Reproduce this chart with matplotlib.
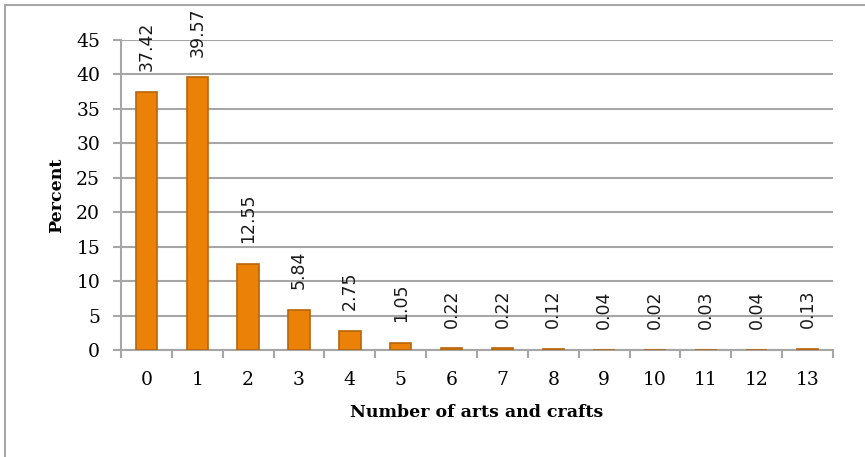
import matplotlib
matplotlib.use("Agg")
import matplotlib.pyplot as plt
import numpy as np
from matplotlib.patches import Rectangle

# values
categories = ["0", "1", "2", "3", "4", "5", "6", "7", "8", "9", "10", "11", "12", "13"]
percent = [37.42, 39.57, 12.55, 5.84, 2.75, 1.05, 0.22, 0.22, 0.12, 0.04, 0.02, 0.03, 0.04, 0.13]
y_ticks = [0, 5, 10, 15, 20, 25, 30, 35, 40, 45]

bar_color = "#EB8106"
edge_color = "#B8650A"
grid_color = "#A6A6A6"
serif = "DejaVu Serif"

fig = plt.figure(figsize=(8.65, 4.57), dpi=100)
ax = fig.add_axes([121 / 865, 1 - 350 / 457, (833 - 121) / 865, (350 - 40) / 457])

x = np.arange(len(categories))
ax.bar(x, percent, width=0.42, color=bar_color, edgecolor=edge_color, linewidth=1.2, zorder=3)

# rotated value labels above each bar
for xi, v in zip(x, percent):
    ax.annotate(f"{v:.2f}", (xi, v), xytext=(0, 15), textcoords="offset points",
                rotation=90, ha="center", va="bottom", fontsize=12.5,
                family="DejaVu Sans", color="#1a1a1a")

ax.set_xlim(-0.5, len(categories) - 0.5)
ax.set_ylim(0, 45)
ax.set_yticks(y_ticks)
ax.set_yticklabels([str(t) for t in y_ticks], fontsize=13.5, family=serif)
ax.set_xticks(x)
ax.set_xticklabels(categories, fontsize=13.5, family=serif)
ax.set_xticks(np.arange(len(categories) + 1) - 0.5, minor=True)
ax.tick_params(axis="x", which="major", length=0, pad=15)
ax.tick_params(axis="x", which="minor", length=6, color=grid_color, width=1.5)
ax.tick_params(axis="y", length=6, color=grid_color, width=1.5, pad=9)

ax.yaxis.grid(True, color=grid_color, linewidth=1.5, zorder=0)
ax.set_axisbelow(True)
for side in ["top", "right"]:
    ax.spines[side].set_visible(False)
for side in ["left", "bottom"]:
    ax.spines[side].set_color(grid_color)
    ax.spines[side].set_linewidth(1.5)

ax.set_xlabel("Number of arts and crafts", fontsize=12.5, family=serif, fontweight="bold", labelpad=11)
ax.set_ylabel("Percent", fontsize=12.5, family=serif, fontweight="bold", labelpad=8)

# outer chart border
fig.patches.append(Rectangle((5 / 865, -0.1), 1.2, 1 - 5 / 457 + 0.1, transform=fig.transFigure,
                             fill=False, edgecolor=grid_color, linewidth=1.5))

fig.savefig("out.png", dpi=100)
